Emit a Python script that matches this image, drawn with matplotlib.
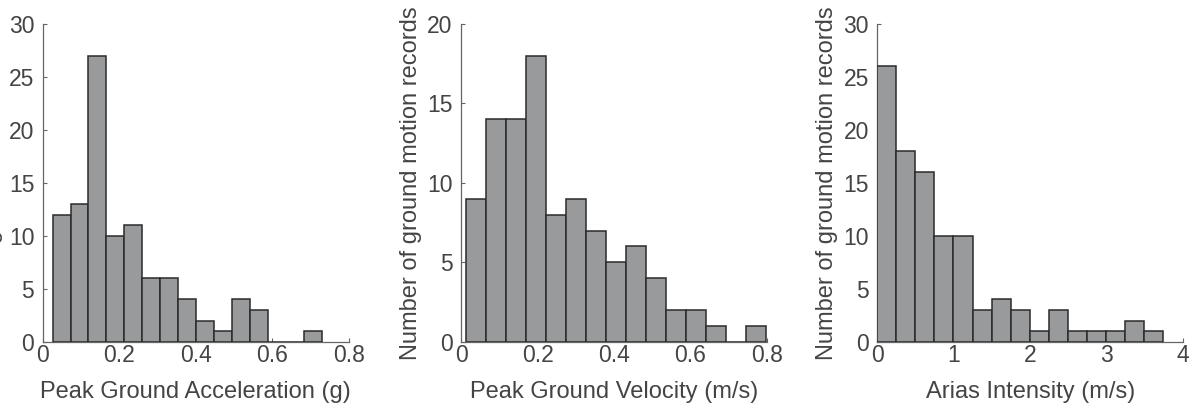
import numpy as np
import matplotlib
matplotlib.use('Agg')
import matplotlib.pyplot as plt

plt.rcParams['font.family'] = ['Liberation Sans', 'DejaVu Sans']

# histogram counts (15 bins each)
pga_counts = [12, 13, 27, 10, 11, 6, 6, 4, 2, 1, 4, 3, 0, 0, 1]
pga_start, pga_width = 0.026, 0.0469

pgv_counts = [9, 14, 14, 18, 8, 9, 7, 5, 6, 4, 2, 2, 1, 0, 1]
pgv_start, pgv_width = 0.013, 0.0523

ai_counts = [26, 18, 16, 10, 10, 3, 4, 3, 1, 3, 1, 1, 1, 2, 1]
ai_start, ai_width = 0.0, 0.249

xlabels = ['Peak Ground Acceleration (g)', 'Peak Ground Velocity (m/s)', 'Arias Intensity (m/s)']
ylabel = 'Number of ground motion records'

panels = [
    (pga_counts, pga_start, pga_width, 0.8, [0, 0.2, 0.4, 0.6, 0.8], ['0', '0.2', '0.4', '0.6', '0.8'], 30, [0, 5, 10, 15, 20, 25, 30]),
    (pgv_counts, pgv_start, pgv_width, 0.8, [0, 0.2, 0.4, 0.6, 0.8], ['0', '0.2', '0.4', '0.6', '0.8'], 20, [0, 5, 10, 15, 20]),
    (ai_counts, ai_start, ai_width, 4, [0, 1, 2, 3, 4], ['0', '1', '2', '3', '4'], 30, [0, 5, 10, 15, 20, 25, 30]),
]

lefts = [0.0357, 0.3858, 0.7341]
txt = '#444444'

fig = plt.figure(figsize=(11.95, 4.08), dpi=100)
for i, (counts, start, width, xmax, xt, xtl, ymax, yt) in enumerate(panels):
    ax = fig.add_axes([lefts[i], 0.1625, 0.2561, 0.7787])
    edges = start + width * np.arange(len(counts))
    ax.bar(edges, counts, width=width, align='edge', color='#999a9c',
           edgecolor='#2b2b2b', linewidth=1.1, zorder=3)
    ax.set_xlim(0, xmax)
    ax.set_ylim(0, ymax)
    ax.set_xticks(xt)
    ax.set_xticklabels(xtl)
    ax.set_yticks(yt)
    for s in ['top', 'right']:
        ax.spines[s].set_visible(False)
    for s in ['left', 'bottom']:
        ax.spines[s].set_color('#666666')
        ax.spines[s].set_linewidth(0.9)
    ax.tick_params(direction='in', length=3, width=0.8, colors='#666666',
                   labelcolor=txt, labelsize=16.5)
    ax.tick_params(axis='x', pad=2)
    ax.tick_params(axis='y', pad=6)
    ax.set_xlabel(xlabels[i], fontsize=17, color=txt, labelpad=10)
    ax.set_ylabel(ylabel, fontsize=17, color=txt, labelpad=4)

plt.savefig('out.png', dpi=100)
